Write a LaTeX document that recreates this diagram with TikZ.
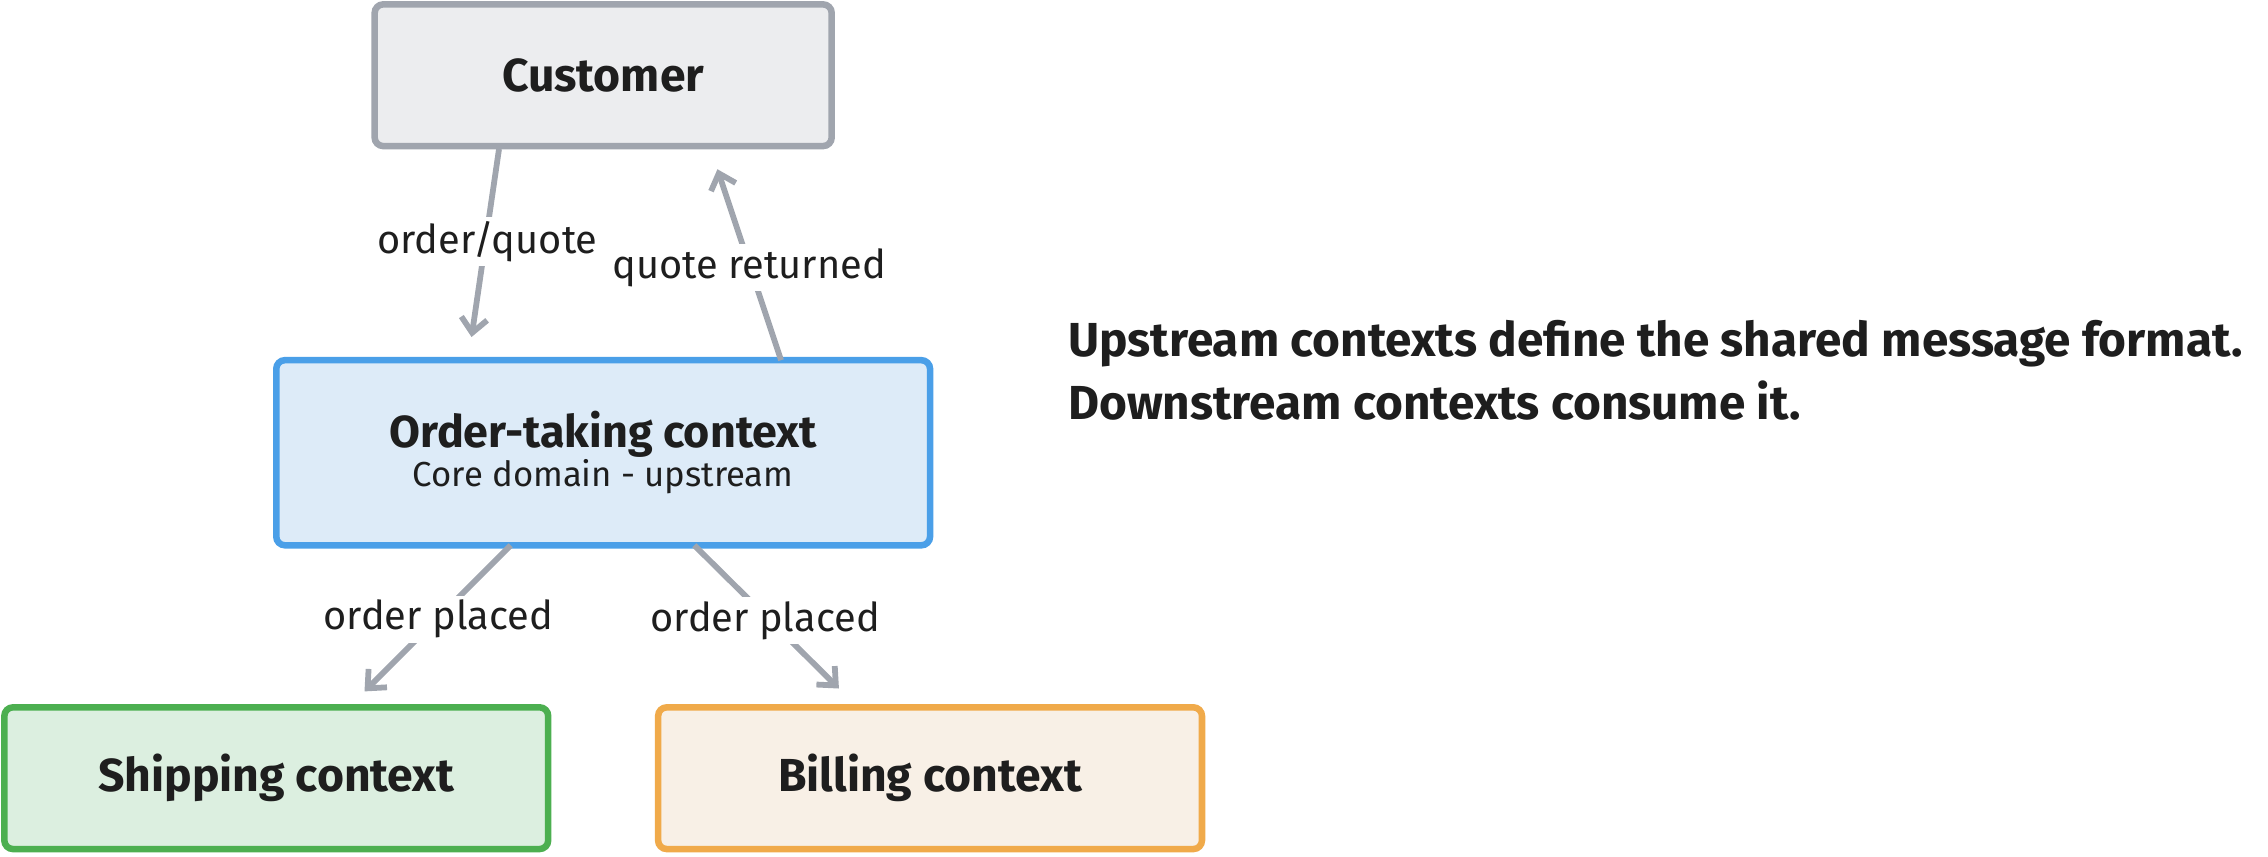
\documentclass[tikz,border=0pt]{standalone}
\usepackage{fontspec}
\setmainfont{Fira Sans}
\usetikzlibrary{arrows.meta}
\definecolor{gstroke}{HTML}{A0A5AE}
\definecolor{gfill}{HTML}{ECEDEF}
\definecolor{bstroke}{HTML}{4A9FE8}
\definecolor{bfill}{HTML}{DDEBF8}
\definecolor{grstroke}{HTML}{4CAF50}
\definecolor{grfill}{HTML}{DCEFE0}
\definecolor{ostroke}{HTML}{F0AA4A}
\definecolor{ofill}{HTML}{F8F0E6}
\definecolor{txt}{HTML}{1E1E1E}
\tikzset{
 box/.style={draw, line width=4.5pt, rounded corners=6pt, inner sep=0pt, text=txt, align=center},
 title/.style={font=\fontsize{32}{36}\selectfont\bfseries},
 conn/.style={draw=gstroke, line width=4pt, -{Straight Barb[length=10pt,width=18pt]}},
 lbl/.style={fill=white, text=txt, font=\fontsize{27.5}{32}\selectfont, inner sep=3pt},
}
\begin{document}
\begin{tikzpicture}[x=1pt,y=-1pt]
\useasboundingbox (0,0) rectangle (1568,592);
\node[box, draw=gstroke, fill=gfill, minimum width=316pt, minimum height=98pt, title] (cust) at (417,52) {Customer};
\node[box, draw=bstroke, fill=bfill, minimum width=452pt, minimum height=128pt] (ord) at (417,313)
 {{\fontsize{31}{36}\selectfont\bfseries Order-taking context}\\[0pt]{\fontsize{24}{28}\selectfont Core domain - upstream}};
\node[box, draw=grstroke, fill=grfill, minimum width=376pt, minimum height=98pt, title] (ship) at (191,538) {Shipping context};
\node[box, draw=ostroke, fill=ofill, minimum width=376pt, minimum height=98pt, title] (bill) at (643,538) {Billing context};
\coordinate (a1) at (345,103); \coordinate (a2) at (326,233);
\coordinate (b1) at (540,249); \coordinate (b2) at (496,117);
\coordinate (c1) at (353,377); \coordinate (c2) at (252,478);
\coordinate (d1) at (480,377); \coordinate (d2) at (580,476);
\draw[conn] (a1) -- (a2);
\draw[conn] (b1) -- (b2);
\draw[conn] (c1) -- (c2);
\draw[conn] (d1) -- (d2);
\node[lbl] (l1) at (337,167) {order/quote};
\node[lbl] (l2) at (518,185) {quote returned};
\node[lbl] (l3) at (303,428) {order placed};
\node[lbl] (l4) at (529,429) {order placed};
\node[anchor=west, text=txt, align=left, font=\fontsize{33}{44}\selectfont\bfseries] (note) at (735,256)
 {Upstream contexts define the shared message format.\\Downstream contexts consume it.};
\end{tikzpicture}
\end{document}
